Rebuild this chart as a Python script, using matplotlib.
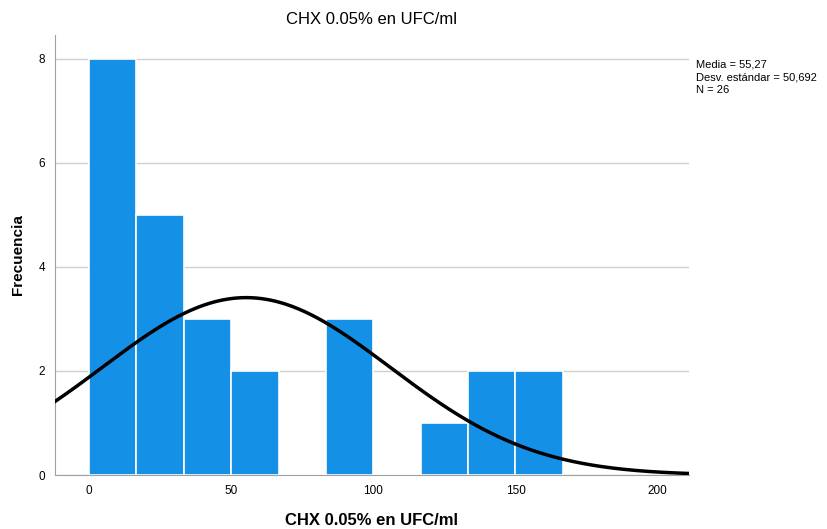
import numpy as np
import matplotlib
matplotlib.use('Agg')
import matplotlib.pyplot as plt

plt.rcParams['font.family'] = ['Liberation Sans', 'DejaVu Sans']

bordes = [0, 16.667, 33.333, 50, 66.667, 83.333, 100, 116.667, 133.333, 150, 166.667]
frecuencias = [8, 5, 3, 2, 0, 3, 0, 1, 2, 2]
media = 55.27
desv = 50.692
n = 26

fig = plt.figure(figsize=(8.27, 5.29), dpi=100)
ax = fig.add_axes([0.0665, 0.102, 0.7665, 0.832])

ancho = bordes[1] - bordes[0]
ax.bar(bordes[:-1], frecuencias, width=ancho, align='edge', color='#1490e6',
       edgecolor='white', linewidth=1.2, zorder=2)

x = np.linspace(-12, 211, 400)
y = n * ancho * np.exp(-0.5 * ((x - media) / desv) ** 2) / (desv * np.sqrt(2 * np.pi))
ax.plot(x, y, color='black', linewidth=2.5, zorder=3)

ax.set_xlim(-12, 211)
ax.set_ylim(0, 8.46)
ax.set_yticks([0, 2, 4, 6, 8])
ax.set_xticks([0, 50, 100, 150, 200])
ax.yaxis.grid(True, color='#d0d0d0', linewidth=1, zorder=0)
ax.set_axisbelow(True)
for s in ['top', 'right']:
    ax.spines[s].set_visible(False)
ax.spines['left'].set_color('#a0a0a0')
ax.spines['bottom'].set_color('#a0a0a0')
ax.tick_params(length=0, labelsize=8.5, pad=7)

ax.set_title('CHX 0.05% en UFC/ml', fontsize=12, pad=8)
ax.set_xlabel('CHX 0.05% en UFC/ml', fontsize=12, fontweight='bold', labelpad=12)
ax.set_ylabel('Frecuencia', fontsize=11, fontweight='bold', labelpad=10)

fig.text(0.842, 0.888, 'Media = 55,27\nDesv. estándar = 50,692\nN = 26',
         fontsize=8, va='top', linespacing=1.35)

plt.savefig('out.png', dpi=100)
